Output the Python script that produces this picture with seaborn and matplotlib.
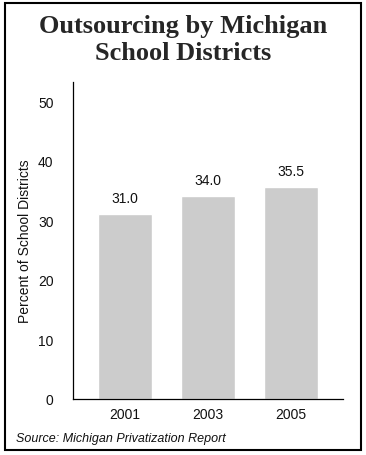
import matplotlib
matplotlib.use("Agg")
import matplotlib.pyplot as plt
import pandas as pd
import seaborn as sns
from matplotlib.patches import Rectangle

years = ["2001", "2003", "2005"]
percent = [31.0, 34.0, 35.5]
y_ticks = [0, 10, 20, 30, 40, 50]

sns.set_theme(style="white")
plt.rcParams["font.family"] = ["Liberation Sans", "DejaVu Sans"]

frame = pd.DataFrame({"year": years, "percent": percent})

fig = plt.figure(figsize=(3.66, 4.56), dpi=100)
ax = fig.add_axes([73 / 366, 1 - 400 / 456, 270 / 366, 317 / 456])

sns.barplot(data=frame, x="year", y="percent", color="#cccccc", width=0.64,
            saturation=1, ax=ax)
for patch, value in zip(ax.patches, percent):
    ax.text(patch.get_x() + patch.get_width() / 2, value + 1.6, f"{value:.1f}",
            ha="center", va="bottom", fontsize=10, color="#111111")

ax.set_xlim(-0.627, 2.627)
ax.set_ylim(0, 53.2)
ax.set_yticks(y_ticks)
ax.set_xlabel("")
ax.set_ylabel("Percent of School Districts", fontsize=10, color="#111111", labelpad=4)
ax.tick_params(axis="both", length=0, labelsize=10, colors="#111111")
ax.tick_params(axis="y", pad=14)
ax.tick_params(axis="x", pad=6)
sns.despine(ax=ax)
for side in ["left", "bottom"]:
    ax.spines[side].set_color("black")
    ax.spines[side].set_linewidth(0.9)

fig.text(0.5, 1 - 27 / 456, "Outsourcing by Michigan", ha="center", va="center",
         fontsize=19, fontweight="bold", family="Liberation Serif")
fig.text(0.5, 1 - 53 / 456, "School Districts", ha="center", va="center",
         fontsize=19, fontweight="bold", family="Liberation Serif")
fig.text(16 / 366, 1 - 442 / 456, "Source: Michigan Privatization Report",
         ha="left", va="baseline", fontsize=9, style="italic", color="#111111")

fig.patches.append(Rectangle((5 / 366, 1 - 451 / 456), 356 / 366, 447 / 456,
                             transform=fig.transFigure, fill=False,
                             edgecolor="black", linewidth=1.5))

fig.savefig("out.png", dpi=100)
